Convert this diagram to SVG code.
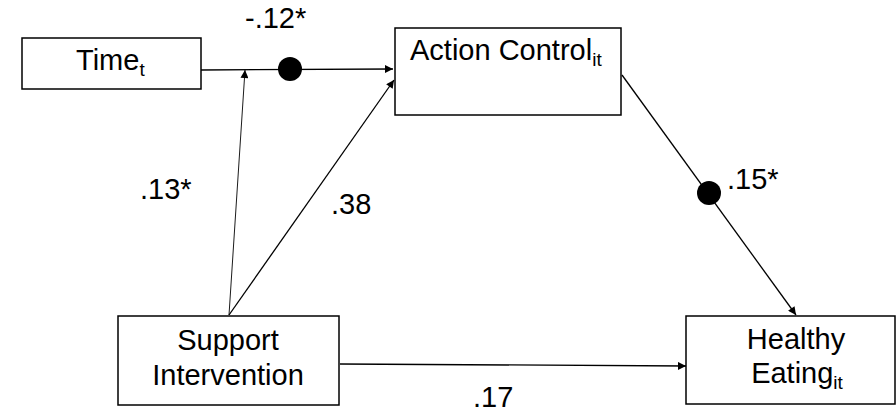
<svg xmlns="http://www.w3.org/2000/svg" width="896" height="413" viewBox="0 0 896 413">
  <style>
    .box { fill: #fff; stroke: #000; stroke-width: 1.5; }
    .lbl { font-family: "Liberation Sans", Arial, sans-serif; font-size: 29px; fill: #000; }
    .sub { font-size: 19px; }
    .edge { stroke: #000; stroke-width: 1.3; fill: none; marker-end: url(#arrow); }
    .thin { stroke-width: 0.9; }
  </style>
  <defs>
    <marker id="arrow" viewBox="0 0 10 10" refX="10" refY="5" markerWidth="10" markerHeight="8" markerUnits="userSpaceOnUse" orient="auto">
      <path d="M0,0 L10,5 L0,10 z" fill="#000"/>
    </marker>
  </defs>
  <rect width="896" height="413" fill="#fff"/>

  <g id="connectors">
    <line class="edge" x1="201" y1="70" x2="393" y2="69"/>
    <line class="edge thin" x1="229" y1="315" x2="245" y2="70"/>
    <line class="edge" x1="229" y1="315" x2="394" y2="80"/>
    <line class="edge" x1="622" y1="75" x2="796" y2="315"/>
    <line class="edge" x1="340" y1="364" x2="686" y2="366"/>
    <circle cx="290" cy="69" r="12" fill="#000"/>
    <circle cx="709" cy="193" r="12" fill="#000"/>
    <text class="lbl" x="245" y="28">-.12*</text>
    <text class="lbl" x="140" y="199">.13*</text>
    <text class="lbl" x="331" y="214">.38</text>
    <text class="lbl" x="727" y="189">.15*</text>
    <text class="lbl" x="473" y="407">.17</text>
  </g>

  <g id="time">
    <rect class="box" x="22" y="38" width="179" height="51"/>
    <text class="lbl" x="76" y="70">Time<tspan class="sub" dy="6">t</tspan></text>
  </g>

  <g id="action-control">
    <rect class="box" x="395" y="28" width="226" height="87"/>
    <text class="lbl" x="410" y="60">Action Control<tspan class="sub" dy="6">it</tspan></text>
  </g>

  <g id="support-intervention">
    <rect class="box" x="118" y="316" width="221" height="89"/>
    <text class="lbl" x="228" y="350" text-anchor="middle">Support</text>
    <text class="lbl" x="228" y="385" text-anchor="middle">Intervention</text>
  </g>

  <g id="healthy-eating">
    <rect class="box" x="686" y="316" width="209" height="88"/>
    <text class="lbl" x="796" y="349" text-anchor="middle">Healthy</text>
    <text class="lbl" x="797" y="383" text-anchor="middle">Eating<tspan class="sub" dy="6">it</tspan></text>
  </g>
</svg>
